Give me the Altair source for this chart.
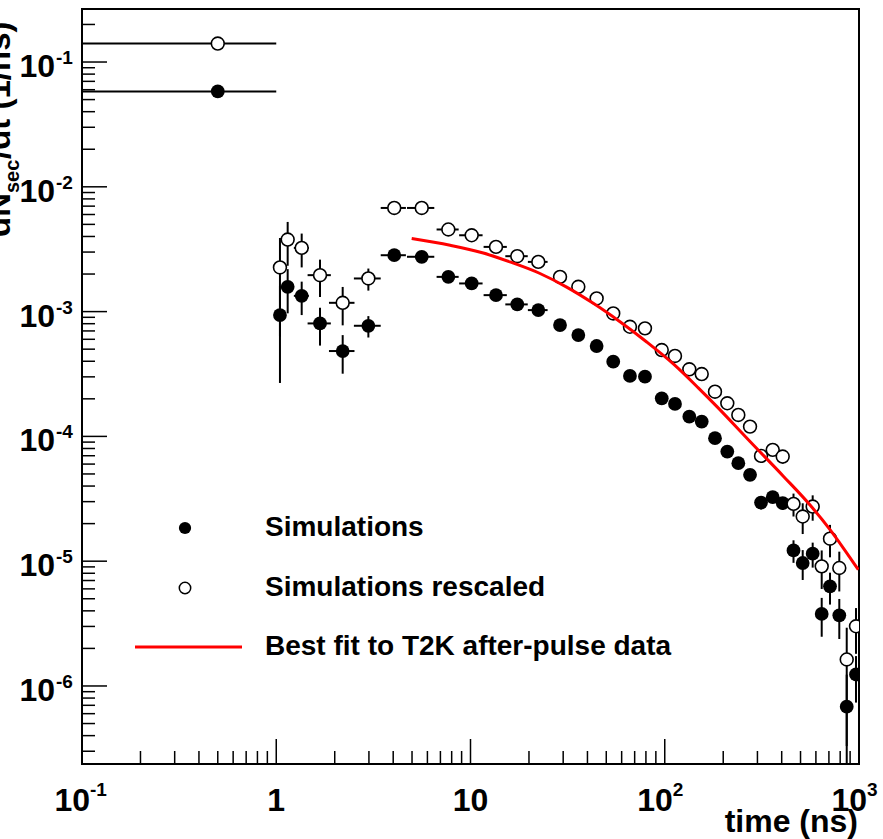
import altair as alt
import pandas as pd

# ---------------- data ----------------
time_ns = [0.5, 1.045, 1.145, 1.352, 1.68, 2.198, 2.98, 4.05, 5.61, 7.69,
           10.14, 13.53, 17.41, 22.34, 28.9, 35.9, 44.6, 54.3, 66.2, 79.1,
           96.5, 112.9, 133.8, 155.0, 181.4, 209.9, 239.2, 274.8, 313.1, 359.6,
           404.8, 460.1, 513.1, 577.5, 642.7, 709.1, 791.7, 864.6, 965.2]
time_err = [0.5, 0.04, 0.05, 0.12, 0.23, 0.33, 0.47, 0.6, 0.9, 1.0,
            1.4, 1.85, 2.3, 2.6, 0, 0, 0, 0, 0, 0,
            0, 0, 0, 0, 0, 0, 0, 0, 0, 0,
            0, 0, 0, 0, 0, 0, 0, 0, 0]

sim = [0.0581, 9.38e-4, 1.579e-3, 1.338e-3, 8.04e-4, 4.83e-4, 7.70e-4, 2.83e-3, 2.75e-3, 1.898e-3,
       1.681e-3, 1.355e-3, 1.142e-3, 1.028e-3, 7.80e-4, 6.49e-4, 5.30e-4, 3.97e-4, 3.05e-4, 3.01e-4,
       2.02e-4, 1.82e-4, 1.44e-4, 1.314e-4, 9.67e-5, 7.56e-5, 6.10e-5, 4.92e-5, 2.95e-5, 3.26e-5,
       2.92e-5, 1.22e-5, 9.67e-6, 1.148e-5, 3.78e-6, 6.29e-6, 3.68e-6, 6.82e-7, 1.236e-6]
sim_err = [0, 6.7e-4, 6.1e-4, 4.0e-4, 2.7e-4, 1.65e-4, 1.5e-4, 1.5e-4, 1.2e-4, 8e-5,
           6e-5, 5e-5, 4e-5, 3.5e-5, 3e-5, 2.5e-5, 2e-5, 1.6e-5, 1.3e-5, 1.2e-5,
           9e-6, 8e-6, 7e-6, 6e-6, 5e-6, 4.5e-6, 4e-6, 3.5e-6, 3.5e-6, 3.5e-6,
           3.5e-6, 2.5e-6, 2.6e-6, 2.6e-6, 1.3e-6, 1.8e-6, 1.3e-6, 5.5e-7, 5e-7]

resc = [0.1406, 2.258e-3, 3.78e-3, 3.24e-3, 1.959e-3, 1.176e-3, 1.843e-3, 6.77e-3, 6.77e-3, 4.55e-3,
        4.09e-3, 3.30e-3, 2.78e-3, 2.503e-3, 1.898e-3, 1.579e-3, 1.275e-3, 9.67e-4, 7.56e-4, 7.34e-4,
        4.92e-4, 4.41e-4, 3.45e-4, 3.16e-4, 2.28e-4, 1.843e-4, 1.486e-4, 1.198e-4, 6.98e-5, 7.80e-5,
        6.89e-5, 2.88e-5, 2.28e-5, 2.74e-5, 9.09e-6, 1.514e-5, 8.82e-6, 1.63e-6, 3.01e-6]
resc_err = [0, 1.63e-3, 1.45e-3, 9.8e-4, 6.5e-4, 4.0e-4, 3.7e-4, 3.6e-4, 2.9e-4, 1.9e-4,
            1.45e-4, 1.2e-4, 9.7e-5, 8.5e-5, 7.3e-5, 6e-5, 4.8e-5, 3.9e-5, 3.1e-5, 2.9e-5,
            2.2e-5, 1.9e-5, 1.7e-5, 1.45e-5, 1.2e-5, 1.1e-5, 9.7e-6, 8.5e-6, 8.5e-6, 8.5e-6,
            8.5e-6, 6e-6, 6.3e-6, 6.3e-6, 3.1e-6, 4.4e-6, 3.1e-6, 1.3e-6, 1.2e-6]

fit_t = [4.98, 7.85, 11.64, 15.97, 22.79, 31.27, 42.87, 58.84, 80.76, 110.7,
         148.8, 185.1, 274.8, 407.7, 559.6, 709.1, 830.5, 991.8]
fit_y = [3.85e-3, 3.40e-3, 2.95e-3, 2.50e-3, 2.02e-3, 1.572e-3, 1.165e-3, 8.29e-4, 5.71e-4, 3.81e-4,
         2.45e-4, 1.74e-4, 9.1e-5, 4.8e-5, 2.82e-5, 1.79e-5, 1.275e-5, 8.55e-6]

legend_labels = ["Simulations", "Simulations rescaled", "Best fit to T2K after-pulse data"]

x_major = [0.1, 1, 10, 100, 1000]
x_base = ["10", "1", "10", "10", "10"]
x_exp = ["-1", "", "", "2", "3"]
y_major = [1e-1, 1e-2, 1e-3, 1e-4, 1e-5, 1e-6]
y_exp = ["-1", "-2", "-3", "-4", "-5", "-6"]

# ---------------- geometry / style ----------------
XMIN, XMAX = 0.1, 1000
YMIN, YMAX = 2.37e-7, 0.266
W, H = 777, 755
FONT = "Liberation Sans"

xs = alt.Scale(type="log", domain=[XMIN, XMAX], nice=False)
ys = alt.Scale(type="log", domain=[YMIN, YMAX], nice=False)

rows = []
for name, vals, errs in [("Simulations", sim, sim_err), ("Simulations rescaled", resc, resc_err)]:
    for t, te, y, e in zip(time_ns, time_err, vals, errs):
        lo = y - e
        rows.append(dict(series=name, t=t, y=y, te=te, e=e,
                         tlo=max(t - te, XMIN), thi=t + te,
                         ylo=lo if lo > 0 else YMIN * 0.5, yhi=y + e))
df = pd.DataFrame(rows)
fit_df = pd.DataFrame({"t": fit_t, "y": fit_y})

x_minor = [m * 10 ** k for k in range(-1, 3) for m in range(2, 10)]
y_minor = [m * 10.0 ** k for k in range(-7, 0) for m in range(2, 10) if YMIN <= m * 10.0 ** k <= YMAX]

X = lambda f: alt.X(f, type="quantitative", scale=xs, axis=None)
Y = lambda f: alt.Y(f, type="quantitative", scale=ys, axis=None)

vbars = alt.Chart(df).transform_filter("datum.e > 0").mark_rule(
    color="black", strokeWidth=2, clip=True).encode(x=X("t"), y=Y("ylo"), y2="yhi")
hbars = alt.Chart(df).transform_filter("datum.te > 0").mark_rule(
    color="black", strokeWidth=2, clip=True).encode(x=X("tlo"), x2="thi", y=Y("y"))

filled_pts = alt.Chart(df).transform_filter("datum.series == 'Simulations'").mark_point(
    shape="circle", filled=True, color="black", size=190, opacity=1, clip=True
).encode(x=X("t"), y=Y("y"))
open_pts = alt.Chart(df).transform_filter("datum.series == 'Simulations rescaled'").mark_point(
    shape="circle", fill="white", fillOpacity=1, stroke="black", strokeWidth=1.6, size=165, opacity=1, clip=True
).encode(x=X("t"), y=Y("y"))

fit_line = alt.Chart(fit_df).mark_line(color="#ff0000", strokeWidth=3, clip=True, interpolate="monotone").encode(
    x=X("t"), y=Y("y"))

# ticks (inside the frame)
xmaj = alt.Chart(pd.DataFrame({"v": x_major})).mark_rule(color="black", strokeWidth=1.5).encode(
    x=X("v"), y=alt.value(H), y2=alt.value(H - 25))
xmin_ = alt.Chart(pd.DataFrame({"v": x_minor})).mark_rule(color="black", strokeWidth=1.5).encode(
    x=X("v"), y=alt.value(H), y2=alt.value(H - 13))
ymaj = alt.Chart(pd.DataFrame({"v": y_major})).mark_rule(color="black", strokeWidth=1.5).encode(
    y=Y("v"), x=alt.value(0), x2=alt.value(25))
ymin_ = alt.Chart(pd.DataFrame({"v": y_minor})).mark_rule(color="black", strokeWidth=1.5).encode(
    y=Y("v"), x=alt.value(0), x2=alt.value(13))

# tick labels
xl = pd.DataFrame({"v": x_major, "base": x_base, "exp": x_exp})
xl_plain = alt.Chart(xl).transform_filter("datum.exp == ''").mark_text(
    font=FONT, fontSize=32, fontWeight="bold", align="center", baseline="alphabetic", color="black"
).encode(x=X("v"), y=alt.value(H + 47), text="base:N")
xl_base = alt.Chart(xl).transform_filter("datum.exp != ''").mark_text(
    font=FONT, fontSize=32, fontWeight="bold", align="right", baseline="alphabetic", dx=8, color="black"
).encode(x=X("v"), y=alt.value(H + 47), text="base:N")
xl_exp = alt.Chart(xl).transform_filter("datum.exp != ''").mark_text(
    font=FONT, fontSize=19, fontWeight="bold", align="left", baseline="alphabetic", dx=8, color="black"
).encode(x=X("v"), y=alt.value(H + 32), text="exp:N")

yl = pd.DataFrame({"v": y_major, "exp": y_exp})
yl_base = alt.Chart(yl).mark_text(
    font=FONT, fontSize=32, fontWeight="bold", align="right", baseline="alphabetic", dy=15, color="black"
).encode(y=Y("v"), x=alt.value(-27), text=alt.value("10"))
yl_exp = alt.Chart(yl).mark_text(
    font=FONT, fontSize=19, fontWeight="bold", align="left", baseline="alphabetic", dy=2, color="black"
).encode(y=Y("v"), x=alt.value(-26), text="exp:N")

# axis titles
one = pd.DataFrame({"a": [0]})
xtitle = alt.Chart(one).mark_text(
    font=FONT, fontSize=32, fontWeight="bold", align="right", baseline="alphabetic", color="black"
).encode(x=alt.value(W - 1), y=alt.value(H + 68), text=alt.value("time (ns)"))
yt1 = alt.Chart(one).mark_text(font=FONT, fontSize=33, fontWeight="bold", align="left",
                               baseline="alphabetic", angle=270, color="black").encode(
    x=alt.value(-72), y=alt.value(228), text=alt.value("dN"))
yt2 = alt.Chart(one).mark_text(font=FONT, fontSize=20, fontWeight="bold", align="left",
                               baseline="alphabetic", angle=270, color="black").encode(
    x=alt.value(-63), y=alt.value(184), text=alt.value("sec"))
yt3 = alt.Chart(one).mark_text(font=FONT, fontSize=33, fontWeight="bold", align="left",
                               baseline="alphabetic", angle=270, color="black").encode(
    x=alt.value(-72), y=alt.value(150), text=alt.value("/dt (1/ns)"))

# legend
leg = pd.DataFrame({"label": legend_labels, "row": [0, 1, 2]})
LEG_Y = [519, 579, 638]
leg_filled = alt.Chart(one).mark_point(shape="circle", filled=True, color="black", size=150, opacity=1).encode(
    x=alt.value(103), y=alt.value(LEG_Y[0]))
leg_open = alt.Chart(one).mark_point(shape="circle", fill="white", fillOpacity=1, stroke="black",
                                     strokeWidth=1.5, size=130, opacity=1).encode(
    x=alt.value(103), y=alt.value(LEG_Y[1]))
leg_line = alt.Chart(one).mark_rule(color="#ff0000", strokeWidth=3).encode(
    x=alt.value(53), x2=alt.value(160), y=alt.value(LEG_Y[2]))
leg_text = [alt.Chart(leg).transform_filter(f"datum.row == {i}").mark_text(
    font=FONT, fontSize=28, fontWeight="bold", align="left", baseline="middle", color="black"
).encode(x=alt.value(183), y=alt.value(LEG_Y[i]), text="label:N") for i in range(3)]

chart = alt.layer(
    xmin_, xmaj, ymin_, ymaj,
    vbars, hbars, filled_pts, open_pts, fit_line,
    xl_plain, xl_base, xl_exp, yl_base, yl_exp,
    xtitle, yt1, yt2, yt3,
    leg_filled, leg_open, leg_line, *leg_text
).properties(
    width=W, height=H,
    autosize=alt.AutoSizeParams(type="none"),
    padding={"left": 82, "top": 9, "right": 24, "bottom": 75},
    background="white",
).configure_view(stroke="black", strokeWidth=2)

chart.save("out.html", embed_options={"renderer": "svg", "actions": False})
